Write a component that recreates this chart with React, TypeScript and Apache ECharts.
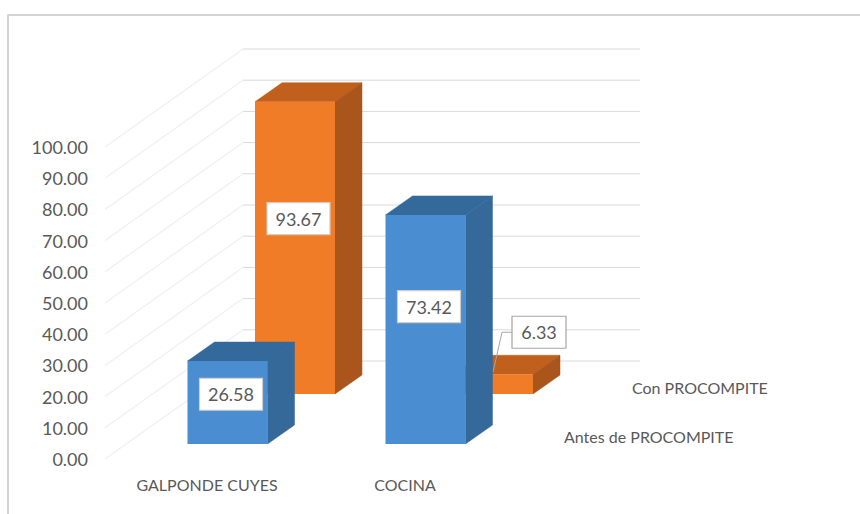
import React, { useEffect, useRef } from "react";
import * as echarts from "echarts";

const categories = ["GALPONDE CUYES", "COCINA"];
const seriesNames = ["Antes de PROCOMPITE", "Con PROCOMPITE"];
const antesValues = [26.58, 73.42];
const conValues = [93.67, 6.33];
const gridTicks = [0, 10, 20, 30, 40, 50, 60, 70, 80, 90, 100];

const FONT = "Lato, Carlito, sans-serif";
const TEXT = "#595959";

const BAR_W = 80;
const DEPTH_X = 27;
const DEPTH_Y = -19;
const WALL_X = 135;
const WALL_Y = -98;
const WALL_RIGHT = 640;

const colors = {
  blue: { front: "#4a8dd1", top: "#34699c", side: "#35699a" },
  orange: { front: "#f07c28", top: "#c0601c", side: "#a9551b" },
};

function barSeries(name: string, values: number[], offX: number, offY: number, c: any, z: number) {
  return {
    type: "custom",
    name,
    z,
    silent: true,
    clip: false,
    data: values.map((v, i) => [i, v]),
    encode: { x: 0, y: 1 },
    renderItem: (_p: any, api: any) => {
      const cat = api.value(0);
      const v = api.value(1);
      const b = api.coord([cat, 0]);
      const t = api.coord([cat, v]);
      const x0 = b[0] + offX - BAR_W / 2;
      const x1 = x0 + BAR_W;
      const yb = b[1] + offY;
      const yt = t[1] + offY;
      const poly = (points: number[][], fill: string) => ({
        type: "polygon",
        shape: { points },
        style: { fill, stroke: fill, lineWidth: 0.5 },
      });
      const children: any[] = [
        poly([[x0, yt], [x0 + DEPTH_X, yt + DEPTH_Y], [x1 + DEPTH_X, yt + DEPTH_Y], [x1, yt]], c.top),
        poly([[x1, yt], [x1 + DEPTH_X, yt + DEPTH_Y], [x1 + DEPTH_X, yb + DEPTH_Y], [x1, yb]], c.side),
        {
          type: "rect",
          shape: { x: x0, y: yt, width: BAR_W, height: yb - yt },
          style: { fill: c.front },
        },
      ];
      const small = v < 10;
      const cx = x0 + BAR_W / 2 + (small ? 46 : 3.5);
      const cy = small ? yt - 42 : yb + (yt - yb) * 0.6;
      const w = small ? 54 : 63;
      const h = 32;
      if (small) {
        children.push({
          type: "polyline",
          shape: { points: [[x0 + BAR_W / 2, yt - 2], [x0 + BAR_W / 2 + 9, cy], [cx - w / 2, cy]] },
          style: { stroke: "#a6a6a6", lineWidth: 1, fill: "none" },
        });
      }
      children.push({
        type: "rect",
        shape: { x: cx - w / 2, y: cy - h / 2, width: w, height: h },
        style: { fill: "#ffffff", stroke: small ? "#a6a6a6" : "#d2ccc4", lineWidth: 1.2 },
      });
      children.push({
        type: "text",
        style: {
          text: v.toFixed(2),
          x: cx,
          y: cy,
          align: "center",
          verticalAlign: "middle",
          fill: TEXT,
          font: `18px ${FONT}`,
        },
      });
      return { type: "group", children };
    },
  };
}

export default function App() {
  const ref = useRef<HTMLDivElement>(null);
  useEffect(() => {
    const chart = echarts.init(ref.current!, undefined, { renderer: "svg" });
    chart.setOption({
      animation: false,
      backgroundColor: "#ffffff",
      grid: { left: 108, top: 147, width: 396, height: 312 },
      xAxis: {
        type: "category",
        data: categories,
        axisLine: { show: false },
        axisTick: { show: false },
        axisLabel: { color: TEXT, fontFamily: FONT, fontSize: 16, margin: 17 },
      },
      yAxis: {
        type: "value",
        min: 0,
        max: 100,
        interval: 10,
        splitLine: { show: false },
        axisLine: { show: false },
        axisTick: { show: false },
        axisLabel: {
          color: TEXT,
          fontFamily: FONT,
          fontSize: 18,
          margin: 20,
          formatter: (v: number) => v.toFixed(2),
        },
      },
      series: [
        {
          type: "custom",
          name: "walls",
          z: 1,
          silent: true,
          clip: false,
          data: gridTicks.map((t) => [0, t]),
          encode: { x: 0, y: 1 },
          renderItem: (p: any, api: any) => {
            const y = api.coord([0, api.value(1)])[1];
            const x = p.coordSys.x - 3;
            const bx = x + WALL_X + 3;
            const by = y + WALL_Y;
            return {
              type: "group",
              children: [
                {
                  type: "line",
                  shape: { x1: x, y1: y, x2: bx, y2: by },
                  style: { stroke: "#eef0f2", lineWidth: 1.2 },
                },
                {
                  type: "line",
                  shape: { x1: bx, y1: by, x2: WALL_RIGHT, y2: by },
                  style: { stroke: "#d9d9d9", lineWidth: 1 },
                },
              ],
            };
          },
        },
        barSeries(seriesNames[1], conValues, 88, -65, colors.orange, 2),
        barSeries(seriesNames[0], antesValues, 20.5, -15, colors.blue, 3),
      ],
      graphic: [
        {
          type: "rect",
          shape: { x: 8, y: 15, width: 900, height: 600 },
          style: { fill: "none", stroke: "#c8c8c8", lineWidth: 1.5 },
          silent: true,
          z: 0,
        },
        {
          type: "text",
          x: 632,
          y: 387,
          style: { text: seriesNames[1], fill: TEXT, font: `16px ${FONT}`, verticalAlign: "middle" },
        },
        {
          type: "text",
          x: 564,
          y: 436,
          style: { text: seriesNames[0], fill: TEXT, font: `16px ${FONT}`, verticalAlign: "middle" },
        },
      ],
    });
    return () => chart.dispose();
  }, []);
  return <div ref={ref} style={{ position: "fixed", left: 0, top: 0, width: 860, height: 514 }} />;
}
